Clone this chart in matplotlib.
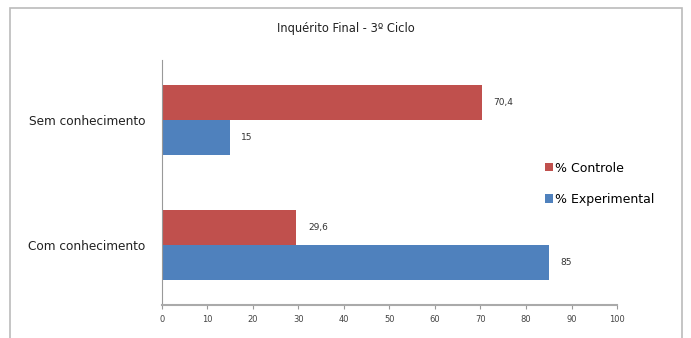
import numpy as np
import matplotlib.pyplot as plt
from matplotlib.patches import Rectangle

categorias = ["Com conhecimento", "Sem conhecimento"]
controle = [29.6, 70.4]
experimental = [85, 15]
rot_controle = ["29,6", "70,4"]
rot_experimental = ["85", "15"]
ticks_x = [0, 10, 20, 30, 40, 50, 60, 70, 80, 90, 100]

vermelho = "#C0504D"
azul = "#4F81BD"

fig = plt.figure(figsize=(6.91, 3.38), dpi=100)
ax = fig.add_axes([0.234, 0.098, 0.659, 0.724])

y = np.arange(len(categorias))
h = 0.28
ax.barh(y + h / 2, controle, height=h, color=vermelho, label="% Controle")
ax.barh(y - h / 2, experimental, height=h, color=azul, label="% Experimental")

for yi, v, t in zip(y, controle, rot_controle):
    ax.text(v + 2.5, yi + h / 2, t, va="center", ha="left", fontsize=6.5, color="#333333")
for yi, v, t in zip(y, experimental, rot_experimental):
    ax.text(v + 2.5, yi - h / 2, t, va="center", ha="left", fontsize=6.5, color="#333333")

ax.set_xlim(0, 100)
ax.set_ylim(-0.48, 1.48)
ax.set_xticks(ticks_x)
ax.set_xticklabels([str(t) for t in ticks_x], fontsize=6, color="#444444")
ax.set_yticks(y)
ax.set_yticklabels(categorias, fontsize=8.7, color="#222222")
ax.tick_params(axis="x", length=3, color="#999999", pad=4)
ax.tick_params(axis="y", length=0, pad=12)
for s in ["top", "right"]:
    ax.spines[s].set_visible(False)
ax.spines["left"].set_color("#999999")
ax.spines["bottom"].set_color("#aaaaaa")
ax.spines["bottom"].set_linewidth(1.5)

fig.text(0.5, 0.915, "Inquérito Final - 3º Ciclo", ha="center", va="center", fontsize=8.3, color="#222222")

leg = fig.legend(loc="upper left", bbox_to_anchor=(0.772, 0.555), frameon=False, fontsize=9,
                 handlelength=0.65, handleheight=0.65, handletextpad=0.15, labelspacing=1.45)

fig.patches.append(Rectangle((10 / 691, -0.05), 672 / 691, 1.05 - 8 / 338, transform=fig.transFigure,
                             fill=False, edgecolor="#bbbbbb", linewidth=1.2))

fig.savefig("out.png", dpi=100)
